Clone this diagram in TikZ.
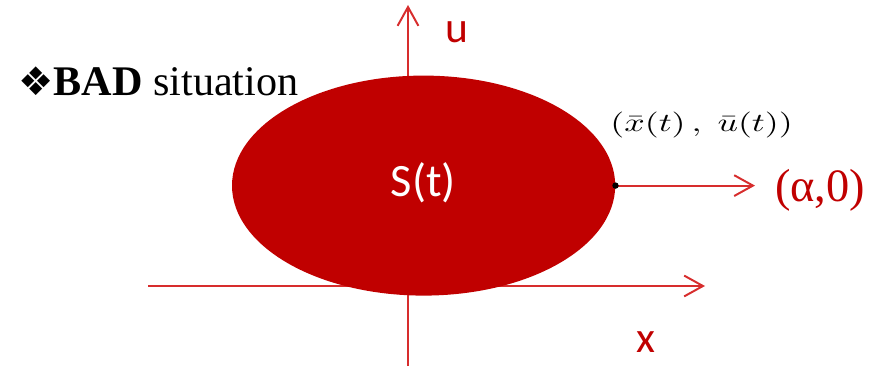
\documentclass[tikz,border=0pt]{standalone}
\usepackage{amsmath}
\usepackage{fontspec}
\setmainfont{Liberation Serif}
\newfontfamily\carlito{Carlito}
\newfontfamily\dejavu{DejaVu Sans}
\usepackage{xcolor}
\usepackage{tikz}
\usetikzlibrary{arrows.meta,shapes.geometric}
\definecolor{dunkelrot}{RGB}{192,0,0}
\definecolor{achsrot}{RGB}{215,45,45}
\tikzset{
  achse/.style={achsrot,line width=1.4pt,-{Straight Barb[length=4.7mm,width=5.2mm,line width=1.4pt]}},
  achstext/.style={dunkelrot,font=\carlito\fontsize{31}{31}\selectfont}
}

\begin{document}
\begin{tikzpicture}[>=Latex,scale=1]
  \useasboundingbox (0,0) rectangle (22.175,9.15);
  % Achsen
  \coordinate (xa) at (3.7,2.0);
  \coordinate (xe) at (17.625,2.0);
  \coordinate (ua) at (10.2,0);
  \coordinate (ue) at (10.2,9.025);
  \draw[achse] (xa) -- (xe);
  \draw[achse] (ua) -- (ue);
  \node[achstext] (ulabel) at (11.425,8.35) {u};
  \node[achstext] (xlabel) at (16.15,0.6) {x};
  % Menge S(t)
  \node[ellipse,fill=dunkelrot,minimum width=9.58cm,minimum height=5.5cm,inner sep=0pt] (S) at (10.59,4.51) {};
  \node[text=white,font=\carlito\fontsize{33}{33}\selectfont] (Stext) at (10.58,4.575) {S(t)};
  % Randpunkt und Richtung
  \coordinate (rand) at (S.east);
  \coordinate (ziel) at (18.875,4.51);
  \draw[achse] (rand) -- (ziel);
  \fill (rand) circle (0.08);
  \node[dunkelrot,font=\fontsize{33}{33}\selectfont] (alpha) at (20.5,4.4) {(α,0)};
  \node[xscale=2.55,yscale=1.85,inner sep=1pt] (punkt) at (17.54,6.025) {$(\bar{x}(t)\,,\;\bar{u}(t))$};
  % Ueberschrift
  \node[anchor=west,inner sep=0pt,font=\fontsize{30}{30}\selectfont] (titel) at (0.45,7.12)
    {{\dejavu\fontsize{28}{28}\selectfont ❖}\textbf{BAD} situation};
\end{tikzpicture}
\end{document}
